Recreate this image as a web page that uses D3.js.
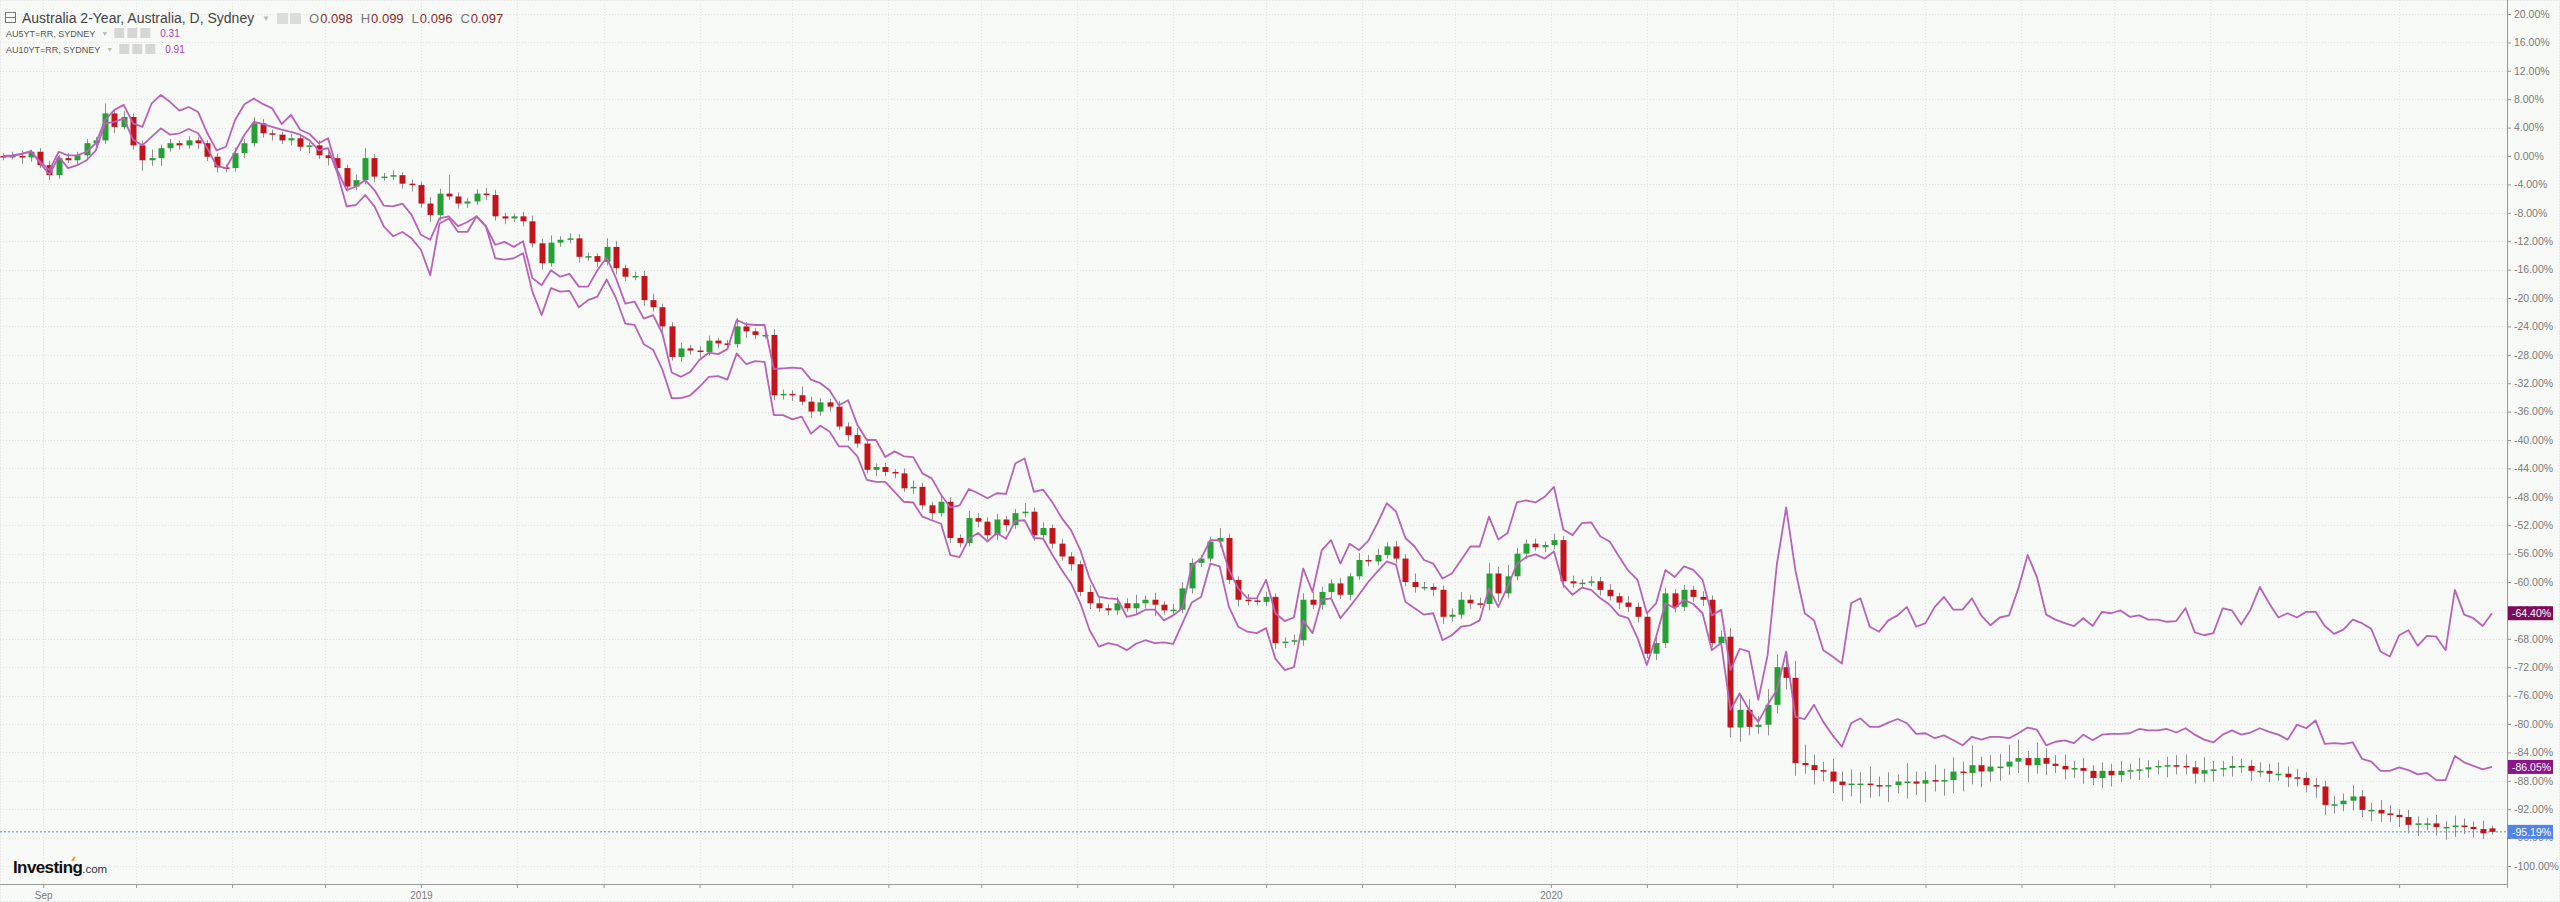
<!DOCTYPE html>
<html><head><meta charset="utf-8">
<script src="https://cdn.jsdelivr.net/npm/d3@7"></script>
<style>html,body{margin:0;padding:0;background:#f8faf8;} svg{display:block}</style>
</head><body><svg id="chart" width="2560" height="902"></svg>
<script>
// ---------------- DATA ----------------
const seriesTitle = "Australia 2-Year, Australia, D, Sydney";
const ohlcLabels = ["O", "H", "L", "C"];
const ohlcValues = ["0.098", "0.099", "0.096", "0.097"];
const overlayNames = ["AU5YT=RR, SYDNEY", "AU10YT=RR, SYDNEY"];
const overlayValues = ["0.31", "0.91"];
const yTicks = [20,16,12,8,4,0,-4,-8,-12,-16,-20,-24,-28,-32,-36,-40,-44,-48,-52,-56,-60,-64,-68,-72,-76,-80,-84,-88,-92,-96,-100];
const xTickLabels = [["2018-09-01", "Sep"], ["2019-01-01", "2019"], ["2020-01-01", "2020"]];
const startDay = "2018-08-19";   // first sample
const stepDays = 3;              // calendar days between samples

// Australia 2-Year, % change (candles)
const opens = [
0.0,-0.1,0.0,-0.2,0.6,-1.3,-2.7,-0.3,-0.6,0.1,
1.8,2.2,6.0,4.1,5.5,1.5,-0.6,-0.3,1.1,1.8,
1.5,2.2,1.8,-0.1,-1.6,-1.7,0.4,1.8,4.6,3.2,
3.0,2.2,2.5,1.3,1.5,0.1,-0.3,-1.7,-4.3,-3.4,
-0.3,-2.9,-2.9,-2.7,-3.9,-4.1,-6.7,-8.3,-5.3,-5.7,
-6.7,-6.4,-5.3,-5.5,-8.5,-8.8,-8.5,-9.2,-12.3,-15.1,
-12.2,-11.8,-11.6,-14.2,-14.1,-14.9,-12.8,-15.8,-17.0,-16.9,
-20.3,-21.3,-24.0,-28.3,-27.1,-27.4,-27.6,-26.0,-26.4,-26.5,
-24.0,-24.7,-25.2,-25.2,-33.7,-33.5,-33.7,-34.6,-36.0,-34.7,
-35.3,-38.1,-39.3,-40.5,-44.2,-43.8,-44.5,-44.7,-46.8,-46.6,
-49.2,-50.3,-48.7,-53.8,-54.5,-51.0,-51.5,-53.4,-51.2,-52.0,
-50.3,-50.1,-53.4,-52.4,-54.6,-56.4,-57.5,-61.4,-63.0,-63.7,
-64.0,-63.0,-63.7,-63.0,-62.5,-63.2,-64.0,-63.9,-60.9,-57.3,
-56.7,-54.3,-53.8,-59.7,-62.5,-62.6,-62.8,-62.1,-68.6,-68.4,
-68.2,-62.5,-63.2,-61.4,-60.2,-61.8,-59.2,-56.9,-57.1,-56.2,
-55.0,-56.7,-60.0,-60.7,-60.7,-61.1,-64.9,-64.6,-62.5,-63.0,
-63.1,-58.8,-61.6,-59.2,-56.0,-54.6,-55.1,-54.8,-54.1,-59.9,
-60.2,-60.1,-59.9,-61.1,-62.0,-62.9,-63.5,-64.9,-70.1,-68.6,
-61.6,-63.5,-61.1,-62.1,-62.5,-68.6,-67.7,-80.5,-78.0,-80.4,
-80.1,-77.3,-72.0,-73.5,-85.5,-85.8,-86.5,-86.7,-88.1,-88.6,
-88.4,-88.4,-88.6,-88.8,-88.6,-88.1,-88.1,-88.4,-87.9,-88.1,
-87.9,-86.7,-86.9,-85.8,-86.7,-86.0,-86.0,-85.3,-84.8,-85.8,
-84.8,-85.6,-85.9,-86.4,-86.2,-86.6,-87.6,-86.6,-87.2,-86.6,
-86.5,-86.4,-86.1,-85.9,-85.8,-85.9,-86.1,-87.0,-86.5,-86.4,
-86.2,-85.9,-85.9,-86.6,-86.6,-87.0,-87.0,-87.5,-87.6,-88.6,
-88.8,-91.4,-91.3,-90.8,-90.2,-92.1,-92.1,-92.6,-92.8,-93.1,
-94.2,-94.0,-94.0,-94.5,-94.5,-94.3,-94.5,-94.8,-94.7];
const closes = [
-0.1,0.0,-0.2,0.6,-1.3,-2.7,-0.3,-0.6,0.1,1.8,
2.2,6.0,4.1,5.5,1.5,-0.6,-0.3,1.1,1.8,1.5,
2.2,1.8,-0.1,-1.6,-1.7,0.4,1.8,4.6,3.2,3.0,
2.2,2.5,1.3,1.5,0.1,-0.3,-1.7,-4.3,-3.4,-0.3,
-2.9,-2.9,-2.7,-3.9,-4.1,-6.7,-8.3,-5.3,-5.7,-6.7,
-6.4,-5.3,-5.5,-8.5,-8.8,-8.5,-9.2,-12.3,-15.1,-12.2,
-11.8,-11.6,-14.2,-14.1,-14.9,-12.8,-15.8,-17.0,-16.9,-20.3,
-21.3,-24.0,-28.3,-27.1,-27.4,-27.6,-26.0,-26.4,-26.5,-24.0,
-24.7,-25.2,-25.2,-33.7,-33.5,-33.7,-34.6,-36.0,-34.7,-35.3,
-38.1,-39.3,-40.5,-44.2,-43.8,-44.5,-44.7,-46.8,-46.6,-49.2,
-50.3,-48.7,-53.8,-54.5,-51.0,-51.5,-53.4,-51.2,-52.0,-50.3,
-50.1,-53.4,-52.4,-54.6,-56.4,-57.5,-61.4,-63.0,-63.7,-64.0,
-63.0,-63.7,-63.0,-62.5,-63.2,-64.0,-63.9,-60.9,-57.3,-56.7,
-54.3,-53.8,-59.7,-62.5,-62.6,-62.8,-62.1,-68.6,-68.4,-68.2,
-62.5,-63.2,-61.4,-60.2,-61.8,-59.2,-56.9,-57.1,-56.2,-55.0,
-56.7,-60.0,-60.7,-60.7,-61.1,-64.9,-64.6,-62.5,-63.0,-63.1,
-58.8,-61.6,-59.2,-56.0,-54.6,-55.1,-54.8,-54.1,-59.9,-60.2,
-60.1,-59.9,-61.1,-62.0,-62.9,-63.5,-64.9,-70.1,-68.6,-61.6,
-63.5,-61.1,-62.1,-62.5,-68.6,-67.7,-80.5,-78.0,-80.4,-80.1,
-77.3,-72.0,-73.5,-85.5,-85.8,-86.5,-86.7,-88.1,-88.6,-88.4,
-88.4,-88.6,-88.8,-88.6,-88.1,-88.1,-88.4,-87.9,-88.1,-87.9,
-86.7,-86.9,-85.8,-86.7,-86.0,-86.0,-85.3,-84.8,-85.8,-84.8,
-85.6,-85.9,-86.4,-86.2,-86.6,-87.6,-86.6,-87.2,-86.6,-86.5,
-86.4,-86.1,-85.9,-85.8,-85.9,-86.1,-87.0,-86.5,-86.4,-86.2,
-85.9,-85.9,-86.6,-86.6,-87.0,-87.0,-87.5,-87.6,-88.6,-88.8,
-91.4,-91.3,-90.8,-90.2,-92.1,-92.1,-92.6,-92.8,-93.1,-94.2,
-94.0,-94.0,-94.5,-94.5,-94.3,-94.5,-94.8,-95.4,-95.19];
// wick extension above the body / below the body (in % points)
const wickHi = [
0.4,0.6,0.8,0.3,0.5,0.6,0.4,0.7,0.5,0.6, 0.5,1.4,0.6,0.8,0.5,0.7,1.2,0.5,0.6,0.4,
0.6,0.5,0.4,0.5,0.4,0.8,0.6,0.9,0.6,0.5, 0.4,0.6,0.5,0.4,0.7,0.5,0.6,0.5,0.8,1.4,
0.6,0.5,0.7,0.4,0.6,0.5,0.9,0.7,2.6,0.6, 0.5,0.6,0.8,0.7,0.5,0.4,0.6,0.8,0.6,1.0,
0.5,0.7,0.6,0.5,0.4,1.2,0.8,0.5,0.6,0.7, 0.9,0.5,0.6,0.8,0.5,0.6,0.7,0.4,0.5,1.2,
0.6,0.5,0.4,0.8,0.6,0.5,1.2,0.7,0.6,0.5, 0.8,0.6,1.0,0.7,0.5,0.6,0.4,0.7,0.9,0.6,
0.5,0.8,0.6,0.5,1.0,0.7,0.6,0.8,0.5,0.6, 1.2,0.6,0.8,0.5,0.7,0.6,0.5,1.0,0.8,0.6,
0.9,0.7,1.2,0.6,1.0,0.5,0.8,0.9,0.6,0.5, 0.7,1.4,0.6,0.5,0.8,0.6,0.7,0.5,0.6,0.8,
0.9,1.1,0.7,0.6,0.8,0.5,1.0,0.7,0.9,0.6, 0.8,0.6,1.2,0.7,0.5,0.6,0.9,1.1,0.7,0.8,
1.5,0.9,1.6,0.8,0.6,0.7,0.5,0.9,0.6,0.8, 0.5,0.7,0.6,0.8,0.5,0.9,0.6,0.7,1.0,0.8,
0.6,0.7,0.5,0.8,0.6,0.9,1.2,2.0,1.5,1.2, 2.2,1.8,1.5,2.4,2.6,1.5,1.2,1.8,1.4,2.0,
1.6,2.4,1.2,1.8,1.0,2.6,1.4,1.2,2.2,1.6, 2.0,1.4,2.8,1.2,1.6,1.8,2.4,2.6,1.0,2.2,
1.4,1.2,1.6,1.0,1.4,0.8,1.2,1.0,1.4,0.9, 1.6,1.0,0.8,1.2,1.4,1.6,0.9,1.8,1.2,1.0,
1.4,1.0,0.8,1.2,1.0,1.6,1.0,1.2,0.8,1.0, 0.8,1.2,1.0,1.6,0.9,1.0,1.4,1.2,0.8,1.0,
1.0,0.8,1.2,0.8,1.4,1.0,0.8,1.2,0.4];
const wickLo = [
0.5,0.4,0.9,0.6,0.4,0.7,0.5,0.4,0.6,0.5, 0.6,0.5,0.9,0.4,0.6,1.5,0.8,1.1,0.5,0.6,
0.5,0.8,0.6,0.7,0.6,0.5,0.7,0.5,0.6,0.8, 0.5,0.7,0.6,0.9,0.5,1.0,0.6,0.7,0.5,0.6,
0.8,0.6,0.5,0.7,0.9,0.6,1.0,0.8,0.5,0.7, 0.6,0.5,0.7,0.6,0.8,0.5,0.7,0.6,0.9,0.5,
0.6,0.5,0.8,0.6,0.7,0.5,0.9,0.6,0.5,0.8, 0.6,0.9,0.5,0.7,0.6,0.8,0.5,0.7,0.6,0.5,
0.9,0.6,0.5,0.7,0.6,0.8,0.5,0.9,0.6,0.7, 0.5,0.8,0.6,0.5,0.9,0.6,0.7,0.5,0.8,0.6,
0.9,0.5,0.7,0.6,0.5,0.8,0.6,0.7,0.9,0.5, 0.6,0.8,0.5,0.7,0.6,0.9,0.6,0.8,0.5,0.7,
0.6,0.5,0.9,0.7,1.6,0.6,0.8,0.5,0.7,0.6, 0.5,0.8,0.6,0.9,0.7,0.5,0.6,0.8,0.7,0.5,
0.8,0.6,0.7,0.9,0.6,0.8,0.5,0.7,0.6,0.5, 0.7,0.6,0.8,0.5,0.9,1.0,0.7,0.6,0.8,0.6,
0.9,1.2,0.7,0.6,0.8,0.5,0.7,0.6,0.9,0.6, 0.7,0.5,0.8,0.6,0.9,0.7,0.8,0.6,0.9,0.7,
0.8,0.6,0.7,0.9,0.6,0.8,1.4,2.0,1.2,1.0, 1.5,1.2,1.6,1.8,1.2,2.0,1.4,1.6,2.2,1.6,
2.8,1.8,1.4,2.2,1.2,2.4,1.6,2.6,1.4,2.0, 1.8,2.6,1.6,2.2,1.4,2.0,1.2,1.6,2.4,1.2,
1.6,1.0,1.4,1.2,1.8,1.0,1.4,1.6,1.0,1.2, 1.4,1.2,1.0,1.6,1.2,1.0,1.4,1.2,1.6,1.0,
1.2,1.0,1.4,0.8,1.2,1.0,1.4,1.2,1.0,1.6, 1.4,1.2,1.0,1.4,1.0,1.6,1.2,1.0,1.4,1.2,
1.6,1.0,1.2,1.8,1.4,1.0,1.2,0.8,0.4];

// AU10YT=RR, % change
const au10y = [
0.0,0.1,0.3,0.6,-0.8,-2.0,0.6,0.1,0.1,0.6,
1.8,5.1,6.5,7.2,4.6,4.1,7.4,8.6,7.6,6.4,
6.9,6.2,3.2,0.8,1.3,5.1,7.3,8.1,7.3,6.7,
4.5,5.8,3.7,3.1,1.8,2.5,-2.0,-4.8,-4.3,-3.4,
-4.8,-7.0,-7.1,-6.7,-8.3,-11.1,-11.8,-8.8,-8.5,-9.9,
-9.3,-8.5,-9.9,-12.5,-12.1,-12.8,-12.0,-17.2,-18.2,-16.1,
-17.0,-16.6,-18.4,-18.4,-16.1,-14.3,-17.2,-20.8,-20.5,-22.9,
-22.4,-25.0,-30.5,-31.1,-30.4,-28.7,-27.7,-27.9,-27.2,-23.1,
-23.7,-23.8,-23.8,-30.0,-29.9,-29.8,-29.9,-31.5,-32.0,-33.0,
-35.1,-34.4,-37.9,-40.0,-40.0,-42.4,-41.6,-42.3,-42.4,-44.7,
-45.4,-47.7,-49.5,-49.2,-46.9,-47.5,-48.2,-47.5,-47.6,-43.3,
-42.6,-47.3,-47.0,-48.8,-51.0,-52.7,-55.5,-59.5,-62.1,-62.3,
-62.4,-64.9,-64.6,-63.9,-63.9,-65.4,-64.7,-63.7,-57.7,-56.7,
-54.1,-54.1,-58.3,-60.9,-62.3,-62.3,-59.7,-64.4,-65.5,-65.0,
-58.1,-61.4,-55.5,-54.1,-57.4,-54.6,-55.5,-54.2,-51.7,-48.9,
-50.1,-53.8,-55.0,-56.9,-57.4,-59.5,-58.8,-56.9,-55.0,-55.0,
-50.8,-54.0,-53.1,-48.8,-48.5,-48.8,-48.0,-46.6,-52.6,-53.4,
-51.7,-51.6,-53.6,-54.3,-56.4,-58.4,-59.7,-64.4,-63.0,-58.3,
-59.3,-57.8,-58.3,-59.7,-64.7,-63.9,-72.4,-69.4,-69.8,-76.6,
-70.3,-57.5,-49.5,-58.4,-64.4,-65.4,-69.6,-70.5,-71.5,-63.0,
-62.3,-66.3,-67.0,-65.4,-64.7,-63.5,-66.3,-65.8,-63.5,-62.1,
-63.9,-63.9,-62.3,-64.7,-66.1,-65.0,-64.7,-60.9,-56.2,-59.3,
-64.6,-65.3,-65.8,-66.2,-65.1,-66.2,-64.2,-64.4,-64.0,-64.9,
-64.7,-65.3,-65.3,-65.6,-65.5,-63.7,-67.1,-67.5,-67.2,-63.7,
-64.0,-66.0,-63.9,-60.7,-63.0,-65.0,-64.4,-65.0,-64.2,-64.2,
-66.2,-67.3,-66.7,-65.3,-65.8,-66.6,-69.8,-70.5,-67.5,-66.8,
-69.0,-67.6,-67.7,-69.6,-61.1,-64.6,-65.1,-66.2,-64.40];

// AU5YT=RR, % change
const au5y = [
-0.1,0.0,0.3,0.7,-1.0,-2.6,-0.1,-1.7,-1.3,-0.6,
0.8,4.6,4.8,5.3,2.3,1.5,2.7,3.9,3.0,3.2,
3.8,3.2,1.1,-1.4,-1.7,0.6,3.0,4.8,4.5,4.1,
3.7,3.4,3.0,2.2,0.8,1.1,-2.4,-7.1,-6.9,-5.5,
-7.1,-9.9,-11.3,-10.7,-11.6,-13.2,-16.8,-9.5,-8.8,-10.7,
-10.7,-8.5,-9.9,-14.4,-14.6,-14.4,-13.7,-19.1,-22.4,-18.6,
-19.1,-19.0,-21.3,-20.3,-19.8,-17.4,-20.0,-23.6,-23.8,-26.5,
-27.3,-30.1,-34.1,-34.1,-33.7,-32.5,-31.1,-31.0,-31.5,-27.8,
-29.3,-28.9,-29.0,-36.5,-36.5,-37.1,-36.7,-39.1,-38.0,-38.8,
-40.9,-40.9,-42.3,-45.6,-45.9,-45.9,-47.3,-48.7,-48.8,-50.8,
-51.3,-51.8,-56.2,-56.5,-53.9,-53.1,-54.3,-53.1,-53.9,-51.4,
-51.3,-53.8,-53.9,-56.2,-58.3,-60.2,-63.0,-66.8,-69.1,-68.6,
-68.9,-69.6,-68.7,-68.2,-68.6,-68.5,-68.7,-65.8,-62.9,-62.1,
-57.4,-57.8,-63.5,-66.3,-67.0,-67.2,-66.5,-70.8,-72.4,-72.0,
-65.4,-67.2,-62.5,-62.3,-65.1,-63.5,-61.8,-60.0,-58.5,-57.1,
-57.6,-62.8,-63.7,-64.6,-64.4,-68.2,-67.5,-66.3,-66.1,-65.4,
-60.9,-63.5,-60.7,-57.5,-56.5,-56.1,-56.7,-55.7,-60.4,-61.8,
-60.8,-61.1,-62.3,-63.2,-64.7,-65.1,-67.9,-71.7,-67.7,-63.0,
-63.7,-62.5,-63.1,-64.4,-69.6,-68.6,-78.0,-75.7,-78.0,-79.7,
-77.3,-75.2,-69.8,-79.0,-79.3,-77.3,-79.7,-81.6,-83.2,-79.9,
-79.2,-80.4,-80.4,-79.8,-79.3,-79.9,-81.4,-81.3,-82.0,-81.6,
-82.3,-83.0,-81.8,-82.2,-81.8,-81.8,-82.0,-81.3,-80.5,-80.8,
-83.0,-82.5,-82.3,-82.7,-81.5,-82.3,-81.5,-81.4,-81.4,-81.3,
-80.7,-80.9,-80.9,-80.7,-81.2,-80.6,-81.5,-82.2,-82.6,-81.5,
-80.9,-81.5,-81.2,-80.6,-81.1,-81.5,-82.2,-80.1,-80.6,-79.5,
-82.8,-82.7,-82.8,-82.6,-84.9,-85.3,-86.6,-86.6,-86.1,-86.5,
-87.1,-86.9,-87.9,-87.9,-84.5,-85.4,-85.9,-86.4,-86.05];

// ---------------- CHART ----------------
const W = 2560, H = 902, plotRight = 2507, plotBottom = 884;
const svg = d3.select("#chart");
const parse = d3.timeParse("%Y-%m-%d");
const start = parse(startDay);
const dates = closes.map((_, i) => d3.timeDay.offset(start, i * stepDays));

const candles = dates.map((d, i) => ({
  date: d, o: opens[i], c: closes[i],
  h: Math.max(opens[i], closes[i]) + wickHi[i],
  l: Math.min(opens[i], closes[i]) - wickLo[i]
}));

const x = d3.scaleTime().domain([dates[0], dates[dates.length - 1]]).range([3, 2492]);
const y = d3.scaleLinear().domain([20, -100]).range([14, 866]);

svg.append("rect").attr("width", W).attr("height", H).attr("fill", "#f8faf8");
svg.append("rect").attr("x", 0.5).attr("y", 0.5).attr("width", W - 1).attr("height", H - 1)
  .attr("fill", "none").attr("stroke", "#d8d8d8").attr("stroke-dasharray", "1,2");

// grid
const monthTicks = d3.timeMonth.range(d3.timeMonth.ceil(x.domain()[0]), d3.timeDay.offset(x.domain()[1], 1));
const grid = svg.append("g");
grid.selectAll(".hg").data(yTicks).join("line")
  .attr("x1", 0).attr("x2", plotRight).attr("y1", d => Math.round(y(d)) + 0.5).attr("y2", d => Math.round(y(d)) + 0.5)
  .attr("stroke", "#e3dfe3").attr("stroke-dasharray", "1,2");
grid.selectAll(".vg").data(monthTicks).join("line")
  .attr("y1", 0).attr("y2", plotBottom).attr("x1", d => Math.round(x(d)) + 0.5).attr("x2", d => Math.round(x(d)) + 0.5)
  .attr("stroke", "#e3e3e3").attr("stroke-dasharray", "1,2");

// last-price dotted line of main series
svg.append("line").attr("x1", 0).attr("x2", plotRight)
  .attr("y1", y(closes[closes.length - 1])).attr("y2", y(closes[closes.length - 1]))
  .attr("stroke", "#5b86e5").attr("stroke-dasharray", "2,2").attr("stroke-width", 1);

// candles
const cw = 6;
const cg = svg.append("g");
cg.selectAll(".wick").data(candles).join("line")
  .attr("x1", d => Math.round(x(d.date)) + 0.5).attr("x2", d => Math.round(x(d.date)) + 0.5)
  .attr("y1", d => y(d.h)).attr("y2", d => y(d.l))
  .attr("stroke", "#8f8f8f").attr("stroke-width", 1);
cg.selectAll(".body").data(candles).join("rect")
  .attr("x", d => Math.round(x(d.date)) - 2.5)
  .attr("width", cw)
  .attr("y", d => y(Math.max(d.o, d.c)))
  .attr("height", d => Math.max(1.5, Math.abs(y(d.o) - y(d.c))))
  .attr("fill", d => d.c >= d.o ? "#25a033" : "#c2141b");

// overlay lines
const line = d3.line().x((d, i) => x(dates[i])).y(d => y(d));
[au10y, au5y].forEach(s => {
  svg.append("path").datum(s).attr("d", line)
    .attr("fill", "none").attr("stroke", "#b862b8").attr("stroke-width", 1.8).attr("stroke-linejoin", "round");
});

// right axis
const yAxis = svg.append("g").attr("transform", `translate(${plotRight},0)`)
  .call(d3.axisRight(y).tickValues(yTicks).tickSize(4).tickPadding(3).tickFormat(d => d.toFixed(2) + "%"));
yAxis.select(".domain").remove();
yAxis.selectAll("line").attr("stroke", "#999");
yAxis.selectAll("text").attr("fill", "#7a7a7a").style("font", "10.5px 'Liberation Sans', Arial, sans-serif");
svg.append("line").attr("x1", plotRight + 0.5).attr("x2", plotRight + 0.5).attr("y1", 0).attr("y2", plotBottom + 4)
  .attr("stroke", "#9a9a9a");

// bottom axis
const labelMap = new Map(xTickLabels.map(([d, l]) => [+parse(d), l]));
const xAxis = svg.append("g").attr("transform", `translate(0,${plotBottom})`)
  .call(d3.axisBottom(x).tickValues(monthTicks).tickSize(4).tickPadding(4).tickFormat(d => labelMap.get(+d) || ""));
xAxis.select(".domain").remove();
xAxis.selectAll("line").attr("stroke", "#999");
xAxis.selectAll("text").attr("fill", "#7a7a7a").style("font", "10px 'Liberation Sans', Arial, sans-serif");
svg.append("line").attr("x1", 0).attr("x2", plotRight + 1).attr("y1", plotBottom + 0.5).attr("y2", plotBottom + 0.5)
  .attr("stroke", "#9a9a9a");

// last value tags (drawn over the axis labels, as in the original)
const tags = [
  {v: au10y[au10y.length - 1], fill: "#7d0b5d"},
  {v: au5y[au5y.length - 1], fill: "#8a168a"},
  {v: closes[closes.length - 1], fill: "#5283e6"}
];
const tg = svg.append("g");
tags.forEach(t => {
  const yy = y(t.v);
  tg.append("rect").attr("x", plotRight + 1).attr("y", yy - 7).attr("width", 45).attr("height", 14).attr("fill", t.fill);
  tg.append("text").attr("x", plotRight + 5).attr("y", yy + 4).attr("fill", "#fff")
    .style("font", "10.5px 'Liberation Sans', Arial, sans-serif").text(t.v.toFixed(2) + "%");
});

// header
const hd = svg.append("g").style("font-family", "'Liberation Sans', Arial, sans-serif");
hd.append("rect").attr("x", 5.5).attr("y", 12.5).attr("width", 10).attr("height", 10).attr("fill", "none").attr("stroke", "#777");
hd.append("line").attr("x1", 5.5).attr("x2", 15.5).attr("y1", 17.5).attr("y2", 17.5).attr("stroke", "#777");
hd.append("text").attr("x", 22).attr("y", 23).attr("fill", "#444").style("font-size", "14px").text(seriesTitle);
hd.append("text").attr("x", 262).attr("y", 21).attr("fill", "#bbb").style("font-size", "8px").text("▼");
[277, 290].forEach(px => hd.append("rect").attr("x", px).attr("y", 13).attr("width", 11).attr("height", 11).attr("fill", "#dcdcdc"));
const ohlc = hd.append("text").attr("x", 309).attr("y", 23).style("font-size", "13px");
ohlcLabels.forEach((l, i) => {
  ohlc.append("tspan").attr("fill", "#777").attr("dx", i ? 8 : 0).text(l);
  ohlc.append("tspan").attr("fill", "#8b2a2a").attr("dx", 1).text(ohlcValues[i]);
});
overlayNames.forEach((n, i) => {
  const yy = 37 + i * 16;
  const t = hd.append("text").attr("x", 6).attr("y", yy).attr("fill", "#555").style("font-size", "9px").text(n);
  const w = t.node().getComputedTextLength();
  hd.append("text").attr("x", 6 + w + 6).attr("y", yy - 1).attr("fill", "#bbb").style("font-size", "7px").text("▼");
  [0, 13, 26].forEach(dx => hd.append("rect").attr("x", 6 + w + 19 + dx).attr("y", yy - 9).attr("width", 10).attr("height", 10).attr("fill", "#d6d6d6"));
  hd.append("text").attr("x", 6 + w + 19 + 46).attr("y", yy).attr("fill", "#b03cb0").style("font-size", "10px").text(overlayValues[i]);
});

// watermark
const wm = svg.append("text").attr("x", 13).attr("y", 873).style("font-family", "'Liberation Sans', Arial, sans-serif");
wm.append("tspan").attr("fill", "#111").style("font-size", "17px").style("font-weight", "bold").style("letter-spacing", "-0.6px").text("Investing");
wm.append("tspan").attr("fill", "#333").style("font-size", "11.5px").text(".com");
svg.append("line").attr("x1", 72).attr("x2", 75).attr("y1", 861).attr("y2", 857).attr("stroke", "#f29a1f").attr("stroke-width", 2);
</script>
</body></html>
